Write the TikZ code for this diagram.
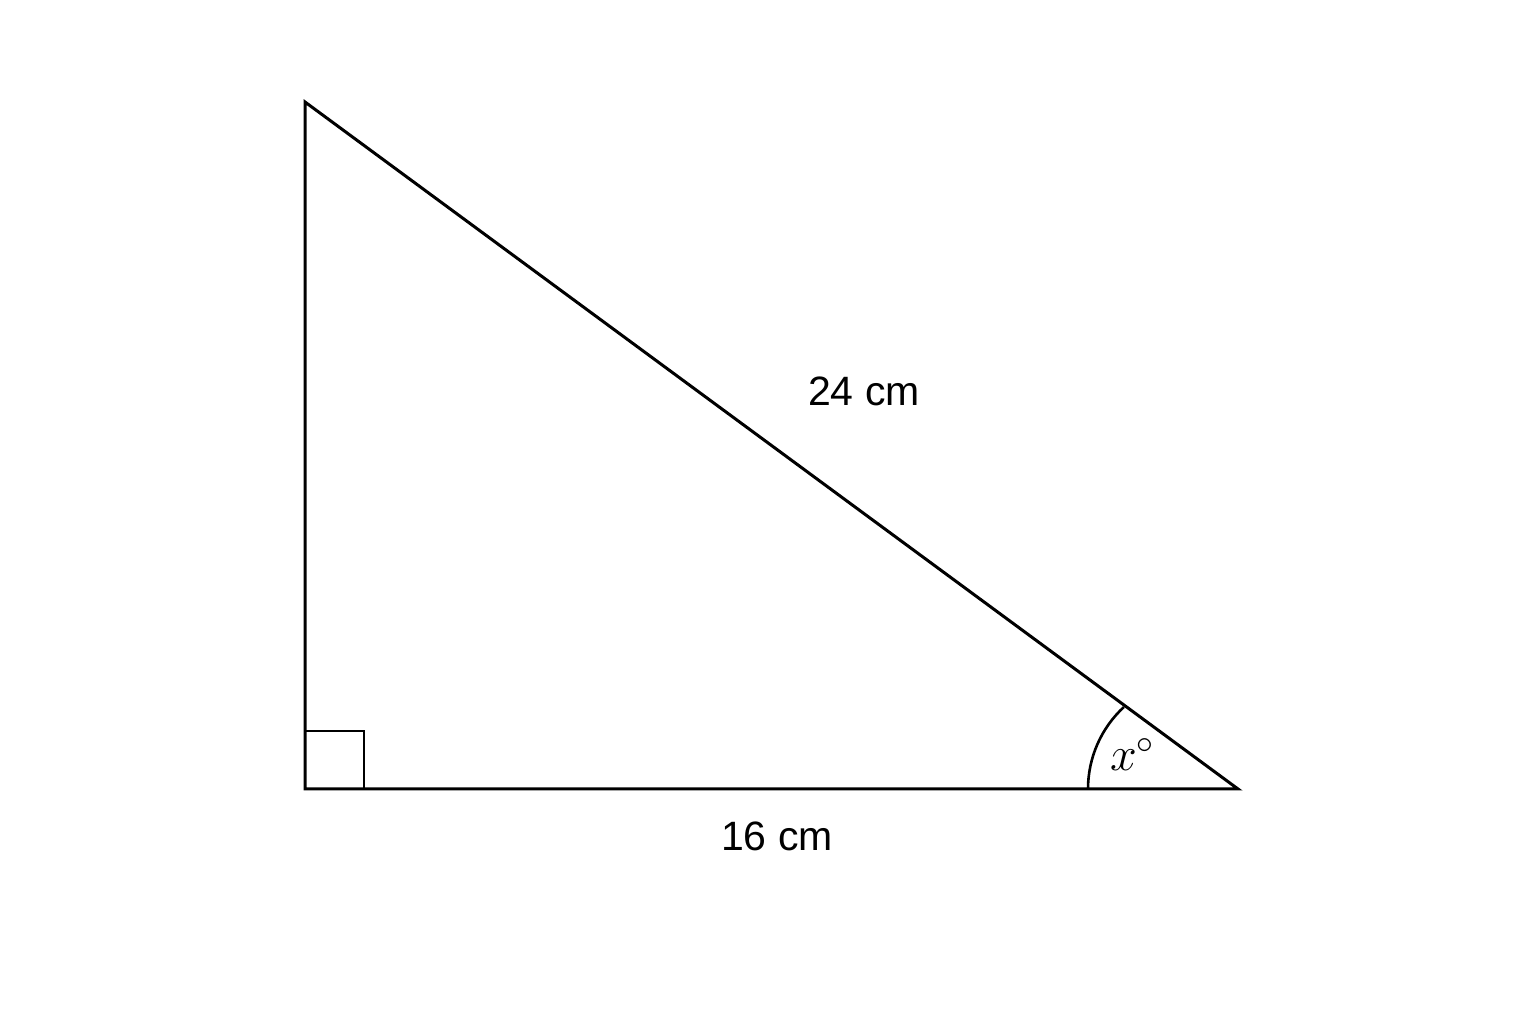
\documentclass[tikz,border=0pt]{standalone}
\usepackage{fix-cm}
\usepackage{fontspec}
\setmainfont{Liberation Sans}
\begin{document}
\begin{tikzpicture}[x=1pt,y=1pt,
  edge/.style={line width=3pt,line join=miter},
  thin edge/.style={line width=2.6pt},
  lbl/.style={font=\fontsize{41}{48}\selectfont,inner sep=0pt},
  anglbl/.style={font=\fontsize{48}{56}\selectfont,inner sep=0pt,anchor=base}]
\useasboundingbox (0,0) rectangle (1536,1024);
\coordinate (A) at (305,922);
\coordinate (B) at (305,235);
\coordinate (C) at (1238,235);
\coordinate (S) at (1088,235);
\draw[edge] (A) -- (B) -- (C) -- cycle;
\draw[thin edge] (305,293) -- (364,293) -- (364,235);
\draw[thin edge] (S) arc[start angle=180,end angle=132.7,radius=111.6];
\node[lbl] (hyp) at (864,633) {24 cm};
\node[lbl] (base) at (777,188) {16 cm};
\node[anglbl] (ang) at (1132,253) {$x^\circ$};
\end{tikzpicture}
\end{document}
